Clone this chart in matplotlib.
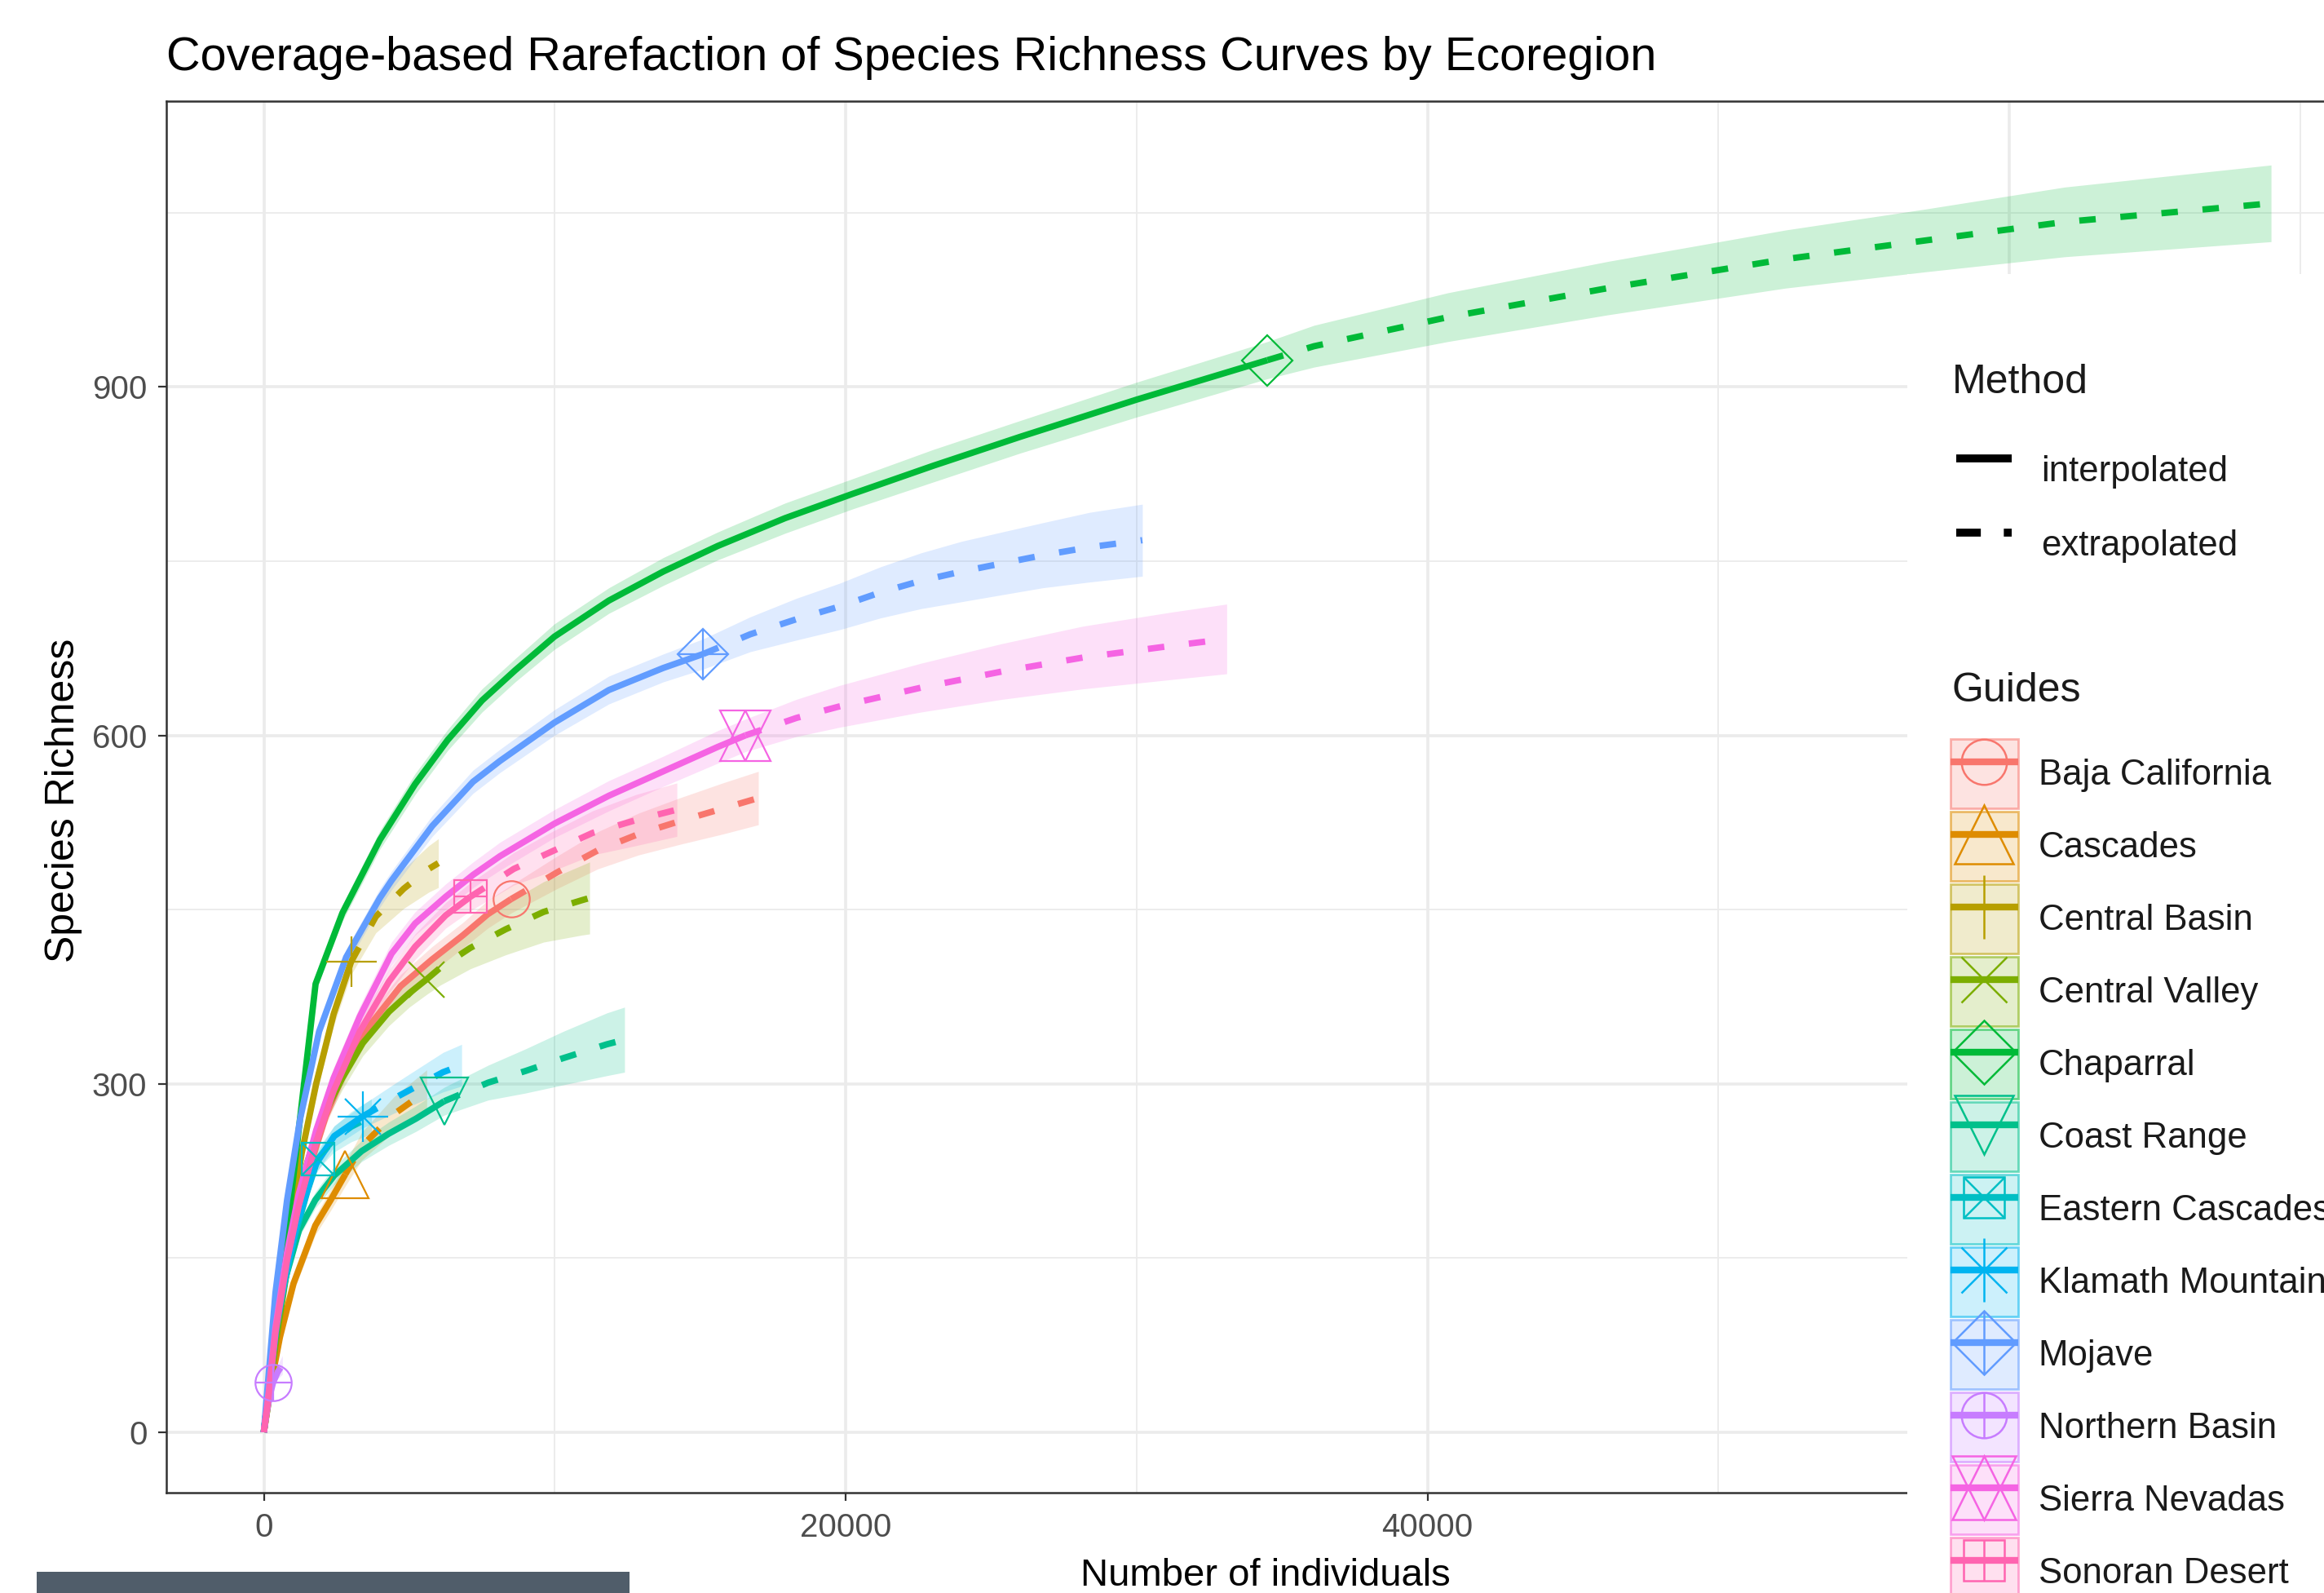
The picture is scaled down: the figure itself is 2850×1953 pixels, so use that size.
import matplotlib
matplotlib.use("Agg")
import matplotlib.pyplot as plt
from matplotlib.lines import Line2D
from matplotlib.patches import Patch, Rectangle
from matplotlib.colors import to_rgba
from matplotlib.legend_handler import HandlerTuple

plt.rcParams['font.family'] = ['Liberation Sans', 'DejaVu Sans']

# ---------------------------------------------
# Data
# ---------------------------------------------
regions = ["Baja California", "Cascades", "Central Basin", "Central Valley",
           "Chaparral", "Coast Range", "Eastern Cascades", "Klamath Mountains",
           "Mojave", "Northern Basin", "Sierra Nevadas", "Sonoran Desert"]

colors = ["#F8766D", "#DE8C00", "#B79F00", "#7CAE00", "#00BA38", "#00C08B",
          "#00BFC4", "#00B4F0", "#619CFF", "#C77CFF", "#F564E3", "#FF64B0"]

# ggplot shape codes 1..12
shapes = [1, 2, 3, 4, 5, 6, 7, 8, 9, 10, 11, 12]

# observed sample size (end of interpolated part)
sample_size = {
    "Baja California": 8500, "Cascades": 2800, "Central Basin": 3000,
    "Central Valley": 5600, "Chaparral": 34500, "Coast Range": 6200,
    "Eastern Cascades": 1850, "Klamath Mountains": 3400, "Mojave": 15100,
    "Northern Basin": 320, "Sierra Nevadas": 16560, "Sonoran Desert": 7100,
}

individuals = {
    "Baja California": [0, 150, 400, 900, 1500, 2130, 2880, 3630, 4700, 5780, 6850, 7700, 8500,
                        10080, 11480, 12880, 14280, 15775, 17000],
    "Cascades": [0, 250, 555, 1020, 1770, 2300, 2800, 3358, 4479, 5600],
    "Central Basin": [0, 150, 400, 800, 1300, 1800, 2400, 3000, 3850, 4810, 5670, 6000],
    "Central Valley": [0, 150, 400, 800, 1120, 1490, 1960, 2700, 3400, 4300, 5000, 5600,
                       6069, 7097, 8311, 9618, 10926, 11200],
    "Chaparral": [0, 1780, 2700, 3990, 5200, 6320, 7500, 8640, 9990, 11860, 13730, 15600,
                  17920, 20250, 23000, 26000, 30000, 34500,
                  36100, 40700, 46200, 52300, 57100, 61900, 69000],
    "Coast Range": [0, 200, 450, 740, 1210, 1770, 2420, 3360, 4290, 5230, 6200,
                    7710, 8990, 10280, 11790, 12400],
    "Eastern Cascades": [0, 200, 450, 750, 1100, 1500, 1850, 2400, 3000, 3700],
    "Klamath Mountains": [0, 200, 450, 740, 1120, 1490, 1770, 2420, 3400, 4670, 6160, 6800],
    "Mojave": [0, 400, 800, 1250, 1900, 2830, 3990, 4390, 5790, 7190, 8120, 9990, 11860,
               13730, 15100, 16720, 18310, 19800, 21190, 22580, 23980, 25370, 26770,
               28390, 30200],
    "Northern Basin": [0, 100, 200, 320, 480, 640],
    "Sierra Nevadas": [0, 150, 400, 800, 1200, 1800, 2400, 3300, 4390, 5200, 6250, 7200,
                       8120, 9990, 11860, 13730, 15600, 16560, 18310, 19800, 22580,
                       25380, 28160, 31180, 33100],
    "Sonoran Desert": [0, 150, 400, 800, 1200, 1800, 2400, 3300, 4300, 5200, 6250, 7100,
                       8590, 9900, 11300, 12790, 14200],
}

richness = {
    "Baja California": [0, 26, 80, 158, 222, 272, 317, 350, 384, 407, 428, 446, 459,
                        482, 501, 515, 526, 537, 546],
    "Cascades": [0, 42, 82, 128, 178, 200, 222, 246, 274, 294],
    "Central Basin": [0, 30, 90, 160, 240, 300, 360, 405, 444, 468, 485, 490],
    "Central Valley": [0, 24, 75, 140, 190, 232, 268, 305, 335, 362, 378, 390,
                       400, 417, 433, 448, 458, 460],
    "Chaparral": [0, 386, 447, 510, 558, 596, 630, 656, 685, 716, 741, 763, 787, 808,
                  832, 857, 889, 923, 935, 960, 985, 1010, 1026, 1042, 1058],
    "Coast Range": [0, 45, 95, 132, 174, 200, 221, 242, 257, 270, 285,
                    301, 311, 322, 334, 338],
    "Eastern Cascades": [0, 45, 92, 133, 172, 208, 235, 252, 263, 272],
    "Klamath Mountains": [0, 45, 95, 135, 178, 208, 230, 255, 272, 290, 310, 316],
    "Mojave": [0, 120, 200, 270, 345, 409, 460, 475, 522, 560, 578, 611, 639, 658, 670,
               687, 700, 711, 723, 733, 741, 748, 755, 762, 768],
    "Northern Basin": [0, 17, 31, 43, 52, 58],
    "Sierra Nevadas": [0, 30, 90, 155, 205, 260, 305, 358, 412, 438, 461, 480, 496, 524,
                       548, 569, 590, 600, 615, 625, 641, 655, 667, 677, 683],
    "Sonoran Desert": [0, 28, 86, 148, 195, 250, 294, 345, 388, 418, 445, 461,
                       485, 500, 516, 527, 536],
}

# half width of the confidence band
ci_half = {
    "Baja California": [0, 2, 4, 6, 7, 8, 9, 10, 10, 11, 11, 12, 12, 14, 16, 18, 20, 22, 23],
    "Cascades": [0, 3, 5, 7, 8, 9, 10, 12, 15, 18],
    "Central Basin": [0, 2, 4, 6, 8, 9, 10, 11, 14, 17, 20, 21],
    "Central Valley": [0, 2, 4, 6, 7, 8, 9, 10, 11, 12, 12, 13, 15, 18, 22, 26, 30, 31],
    "Chaparral": [0, 6, 7, 8, 9, 9, 10, 10, 11, 11, 12, 12, 13, 13, 14, 14, 15, 16,
                  18, 21, 23, 25, 27, 30, 33],
    "Coast Range": [0, 3, 4, 5, 6, 7, 8, 9, 10, 11, 12, 15, 19, 23, 27, 28],
    "Eastern Cascades": [0, 3, 5, 6, 7, 8, 9, 11, 13, 15],
    "Klamath Mountains": [0, 3, 4, 5, 6, 7, 8, 9, 10, 13, 17, 18],
    "Mojave": [0, 3, 4, 5, 6, 7, 8, 8, 9, 10, 10, 11, 12, 12, 13, 15, 18, 20, 22, 24,
               26, 27, 28, 30, 31],
    "Northern Basin": [0, 2, 3, 4, 6, 8],
    "Sierra Nevadas": [0, 2, 4, 6, 7, 8, 9, 9, 10, 10, 11, 11, 12, 12, 13, 13, 14, 14,
                       16, 18, 21, 24, 27, 29, 30],
    "Sonoran Desert": [0, 2, 4, 6, 7, 8, 9, 10, 10, 11, 11, 12, 14, 17, 19, 22, 23],
}

x_major = [0, 20000, 40000, 60000]
x_minor = [10000, 30000, 50000, 70000]
y_major = [0, 300, 600, 900]
y_minor = [150, 450, 750, 1050]

# ggplot point shapes rebuilt from matplotlib markers (marker, size factor)
shape_parts = {
    1: [("o", 1.0)],
    2: [("^", 1.3)],
    3: [("+", 1.4)],
    4: [("x", 1.0)],
    5: [("D", 1.0)],
    6: [("v", 1.3)],
    7: [("s", 0.89), ("x", 0.89)],
    8: [("+", 1.4), ("x", 1.0)],
    9: [("D", 1.0), ("+", 1.41)],
    10: [("o", 1.0), ("+", 1.0)],
    11: [("^", 1.4), ("v", 1.4)],
    12: [("s", 0.89), ("+", 0.89)],
}

LW = 5.6
DASH = (0, (2.6, 3.9))
LEG_FS = 31.5

# ---------------------------------------------
# Figure and panel
# ---------------------------------------------
fig = plt.figure(figsize=(28.5, 19.53), dpi=100)
ax = fig.add_axes([0.07158, 0.06298, 0.94758, 0.87353])
ax.set_xlim(-3350, 72350)
ax.set_ylim(-52, 1146)

ax.set_xticks(x_major)
ax.set_xticks(x_minor, minor=True)
ax.set_yticks(y_major)
ax.set_yticks(y_minor, minor=True)
ax.set_xticklabels([str(v) for v in x_major])
ax.set_yticklabels([str(v) for v in y_major])
ax.grid(which="major", color="#EBEBEB", lw=2.6)
ax.grid(which="minor", color="#EBEBEB", lw=1.3)
ax.set_axisbelow(True)
ax.tick_params(which="minor", length=0)
ax.tick_params(which="major", length=7, width=1.6, color="#333333",
               labelsize=29, labelcolor="#4D4D4D", pad=10)
for side in ["left", "top", "bottom"]:
    ax.spines[side].set_color("#333333")
    ax.spines[side].set_linewidth(1.8)
ax.spines["right"].set_visible(False)

# ribbons
for i, name in enumerate(regions):
    xs = individuals[name]
    ys = richness[name]
    hw = ci_half[name]
    lo = [y - h for y, h in zip(ys, hw)]
    hi = [y + h for y, h in zip(ys, hw)]
    ax.fill_between(xs, lo, hi, color=colors[i], alpha=0.2, lw=0, zorder=1)

# lines
for i, name in enumerate(regions):
    xs = individuals[name]
    ys = richness[name]
    k = xs.index(sample_size[name])
    ax.plot(xs[:k + 1], ys[:k + 1], color=colors[i], lw=LW,
            solid_capstyle="butt", solid_joinstyle="round", zorder=2)
    ax.plot(xs[k:], ys[k:], color=colors[i], lw=LW, ls=DASH,
            dash_capstyle="butt", zorder=2)

# observed points
for i, name in enumerate(regions):
    xs = individuals[name]
    k = xs.index(sample_size[name])
    for mk, f in shape_parts[shapes[i]]:
        ax.plot([xs[k]], [richness[name][k]], ls="none", marker=mk, ms=32 * f,
                mfc="none", mec=colors[i], mew=1.6, zorder=3)

# ---------------------------------------------
# Titles and axis labels
# ---------------------------------------------
fig.text(204 / 2850, 1 - 86 / 1953,
         "Coverage-based Rarefaction of Species Richness Curves by Ecoregion",
         fontsize=41.5, va="baseline", ha="left", color="black")
fig.text(78 / 2850, 1 - 981 / 1953, "Species Richness", rotation=90,
         fontsize=36, va="center", ha="center", color="black")
fig.text(1552 / 2850, 1 - 1944 / 1953, "Number of individuals",
         fontsize=34, va="baseline", ha="center", color="black")

# ---------------------------------------------
# Legends (white area over the panel)
# ---------------------------------------------
fig.add_artist(Rectangle((2339 / 2850, 0), 0.2, 1 - 336 / 1953,
                         transform=fig.transFigure, facecolor="white",
                         edgecolor="none", zorder=1))

fig.text(2394 / 2850, 1 - 469 / 1953, "Method", fontsize=36,
         va="center", ha="left", color="#1A1A1A", zorder=4)
fig.text(2394 / 2850, 1 - 847 / 1953, "Guides", fontsize=36,
         va="center", ha="left", color="#1A1A1A", zorder=4)

method_handles = [
    Line2D([], [], color="black", lw=7, solid_capstyle="butt"),
    Line2D([], [], color="black", lw=7, ls=(0, (3.1, 2.9)), dash_capstyle="butt"),
]
leg1 = fig.legend(method_handles, ["interpolated", "extrapolated"],
                  loc="upper left", bbox_to_anchor=(2399 / 2850, 1 - 534 / 1953),
                  frameon=False, fontsize=LEG_FS, handlelength=1.554, handleheight=2.612,
                  handletextpad=0.82, labelspacing=0.137, borderpad=0, borderaxespad=0)
for t in leg1.get_texts():
    t.set_color("#1A1A1A")

guide_handles = []
for i, name in enumerate(regions):
    c = colors[i]
    parts = [Patch(facecolor=to_rgba(c, 0.2), edgecolor=to_rgba(c, 0.55), lw=2),
             Line2D([], [], color=c, lw=6, solid_capstyle="butt")]
    for mk, f in shape_parts[shapes[i]]:
        parts.append(Line2D([], [], ls="none", marker=mk, ms=40 * f, mfc="none",
                            mec=c, mew=1.8))
    guide_handles.append(tuple(parts))

leg2 = fig.legend(guide_handles, regions, loc="upper left",
                  bbox_to_anchor=(2392 / 2850, 1 - 906 / 1953),
                  handler_map={tuple: HandlerTuple(ndivide=1, pad=0)},
                  frameon=False, fontsize=LEG_FS, handlelength=1.888, handleheight=2.612,
                  handletextpad=0.57, labelspacing=0.092, borderpad=0, borderaxespad=0)
for t in leg2.get_texts():
    t.set_color("#1A1A1A")

# grey bar at the bottom left of the screenshot
fig.add_artist(Rectangle((45 / 2850, 0), 727 / 2850, 26 / 1953,
                         transform=fig.transFigure, facecolor="#505D6A",
                         edgecolor="none", zorder=6))

fig.savefig("out.png", dpi=100)
